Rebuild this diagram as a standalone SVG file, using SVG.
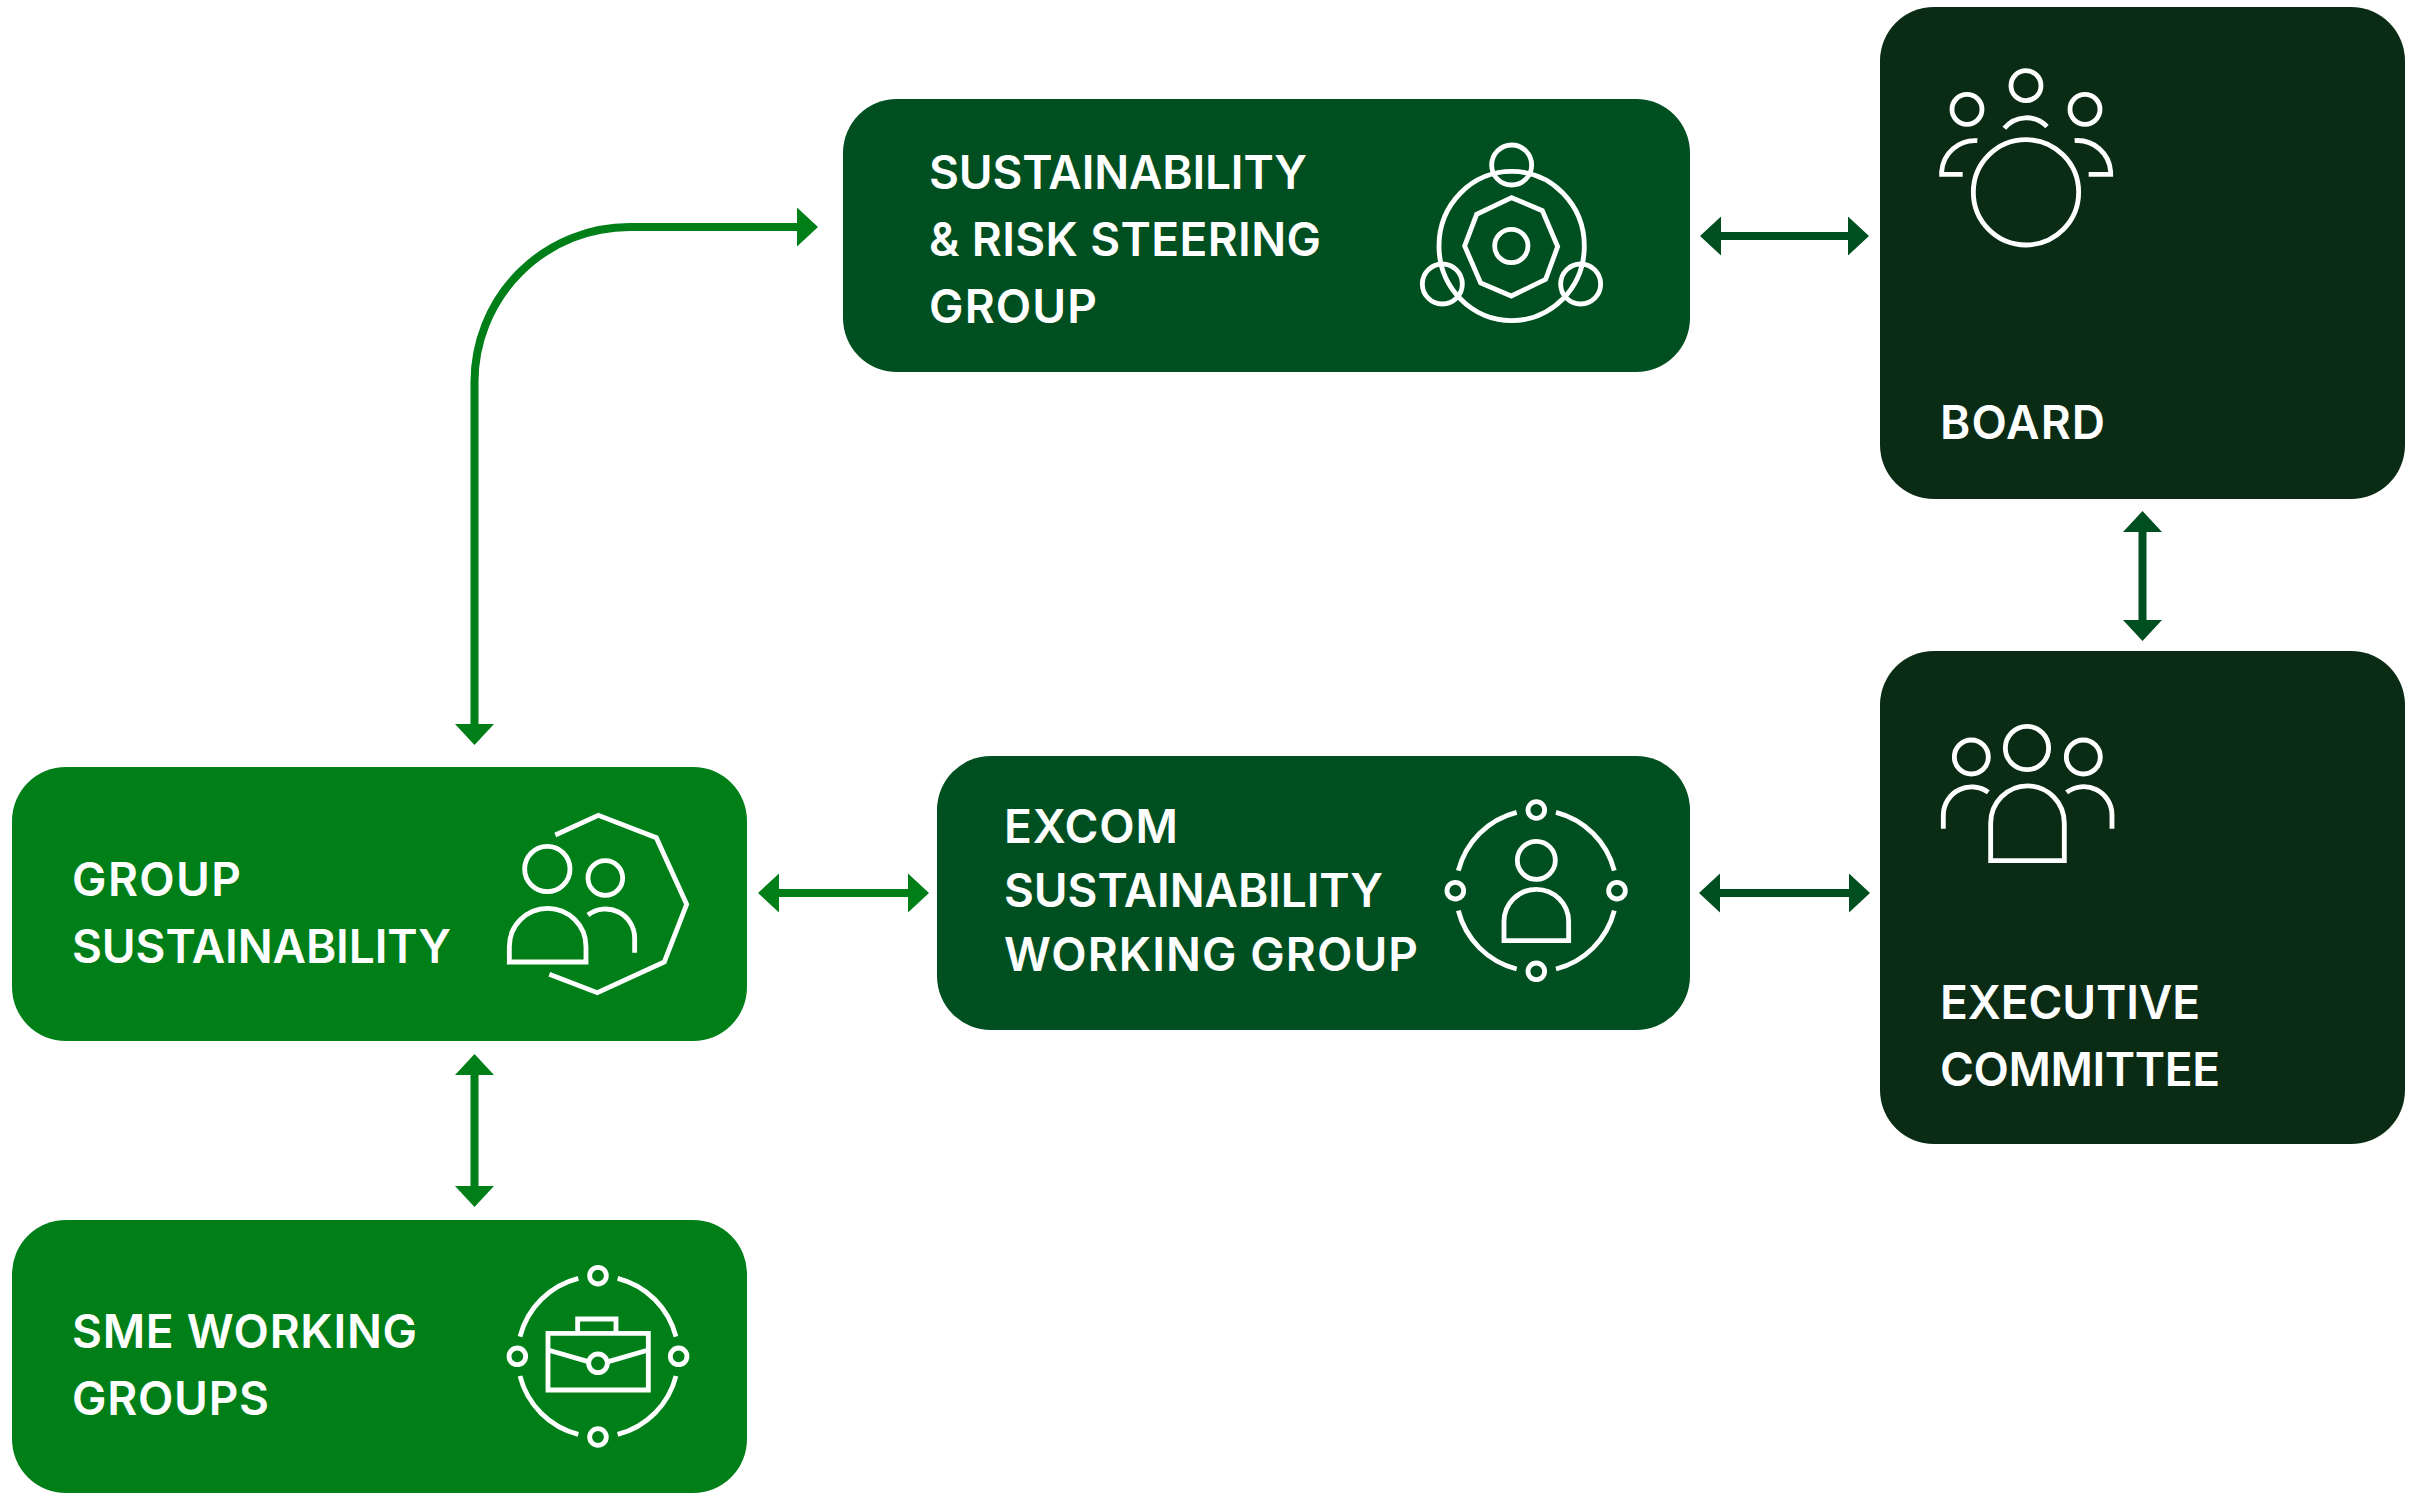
<svg xmlns="http://www.w3.org/2000/svg" width="2413" height="1499" viewBox="0 0 2413 1499">
<style>
.lbl{font-family:"Inter","Liberation Sans",sans-serif;font-weight:600;font-size:46px;fill:#fff}
.ic{fill:none;stroke:#fff;stroke-width:14.5}
.g1{fill:#007f19}.g2{fill:#004f20}.g3{fill:#0a2c15}
.c1{fill:none;stroke:#007f19;stroke-width:8}
.c2{fill:none;stroke:#004f20;stroke-width:8}
.h1{fill:#007f19}.h2{fill:#004f20}
</style>
<rect width="2413" height="1499" fill="#fff"/>
<g id="connectors">
<path class="c1" d="M474.5 735V382A155 155 0 0 1 629.5 227H805"/>
<path class="h1" d="M797 207.500L818 227L797 246.500ZM455 724L474.500 745L494 724Z"/>
<path class="c2" d="M1715 236H1855"/>
<path class="h2" d="M1721 216.500L1700 236L1721 255.500ZM1848 216.500L1869 236L1848 255.500Z"/>
<path class="c2" d="M2142.500 525V627"/>
<path class="h2" d="M2123 532L2142.500 511L2162 532ZM2123 620L2142.500 641L2162 620Z"/>
<path class="c2" d="M1715 893H1855"/>
<path class="h2" d="M1720 873.500L1699 893L1720 912.500ZM1849 873.500L1870 893L1849 912.500Z"/>
<path class="c1" d="M770 893H918"/>
<path class="h1" d="M779 873.500L758 893L779 912.500ZM908 873.500L929 893L908 912.500Z"/>
<path class="c1" d="M474.500 1068V1194"/>
<path class="h1" d="M455 1075L474.500 1054L494 1075ZM455 1186L474.500 1207L494 1186Z"/>
</g>
<g id="steering">
<rect class="g2" x="843" y="99" width="847" height="273" rx="54"/>
<text class="lbl" x="929" y="189" textLength="378">SUSTAINABILITY</text>
<text class="lbl" x="929" y="256" textLength="392">&amp; RISK STEERING</text>
<text class="lbl" x="929" y="323" textLength="168">GROUP</text>
<g class="ic" transform="translate(1380 100) scale(.3333)">
<ellipse cx="395" cy="438" rx="218" ry="224"/><circle cx="395" cy="195" r="60"/><circle cx="187" cy="552" r="60"/><circle cx="602" cy="552" r="60"/><circle cx="394" cy="438" r="50"/>
<path d="M395 293L487 332L533 440L497 538L394 588L302 549L254 438L290 343Z"/>
</g>
</g>
<g id="board">
<rect class="g3" x="1880" y="7" width="525" height="492" rx="54"/>
<text class="lbl" x="1940" y="439" textLength="165">BOARD</text>
<g class="ic" transform="translate(1900 40) scale(.3333)">
<circle cx="378" cy="137" r="45"/><circle cx="201" cy="208" r="45"/><circle cx="555" cy="208" r="45"/><circle cx="378" cy="457" r="158"/>
<path d="M313 265A85 85 0 0 1 441 260M232 302A100 100 0 0 0 125 395V403H188M524 302A100 100 0 0 1 632 395V403H566"/>
</g>
</g>
<g id="executive">
<rect class="g3" x="1880" y="651" width="525" height="493" rx="54"/>
<text class="lbl" x="1940" y="1019" textLength="260">EXECUTIVE</text>
<text class="lbl" x="1940" y="1086" textLength="280">COMMITTEE</text>
<g class="ic" transform="translate(1900 700) scale(.3333)">
<circle cx="381" cy="144" r="65"/><circle cx="214" cy="171" r="51"/><circle cx="550" cy="171" r="51"/>
<path d="M272 482V370A110 112 0 0 1 493 370V482ZM130 386V343A85 85 0 0 1 265 277M636 386V343A85 85 0 0 0 500 277"/>
</g>
</g>
<g id="excom">
<rect class="g2" x="937" y="756" width="753" height="274" rx="54"/>
<text class="lbl" x="1004" y="843" textLength="174">EXCOM</text>
<text class="lbl" x="1004" y="907" textLength="379">SUSTAINABILITY</text>
<text class="lbl" x="1004" y="971" textLength="414">WORKING GROUP</text>
<g class="ic" transform="translate(1420 780) scale(.3333)">
<circle cx="349" cy="90" r="25"/><circle cx="106" cy="332" r="25"/><circle cx="591" cy="332" r="25"/><circle cx="349" cy="574" r="25"/><circle cx="349" cy="241" r="57"/>
<path d="M252 482V425A97 97 0 0 1 446 425V482Z"/>
<path d="M290 97A242 242 0 0 0 115 272M408 97A242 242 0 0 1 583 272M115 392A242 242 0 0 0 290 567M408 567A242 242 0 0 0 583 392"/>
</g>
</g>
<g id="group-sustainability">
<rect class="g1" x="12" y="767" width="735" height="274" rx="54"/>
<text class="lbl" x="72" y="896" textLength="169">GROUP</text>
<text class="lbl" x="72" y="963" textLength="379">SUSTAINABILITY</text>
<g class="ic" transform="translate(490 790) scale(.3333)">
<path d="M196 135L325 76L499 143L590 343L523 516L322 608L178 553"/>
<circle cx="172" cy="237" r="68"/><circle cx="346" cy="264" r="52"/>
<path d="M58 516V470A115 115 0 0 1 288 470V516ZM434 488V444A87 87 0 0 0 294 375"/>
</g>
</g>
<g id="sme-working-groups">
<rect class="g1" x="12" y="1220" width="735" height="273" rx="54"/>
<text class="lbl" x="72" y="1348" textLength="345">SME WORKING</text>
<text class="lbl" x="72" y="1415" textLength="197">GROUPS</text>
<g class="ic" transform="translate(490 1250) scale(.3333)">
<circle cx="324" cy="77" r="25"/><circle cx="82" cy="319" r="25"/><circle cx="566" cy="319" r="25"/><circle cx="324" cy="561" r="25"/><circle cx="324" cy="340" r="28"/>
<path d="M265 85A242 242 0 0 0 90 260M383 85A242 242 0 0 1 558 260M90 378A242 242 0 0 0 265 553M383 553A242 242 0 0 0 558 378"/>
<path d="M174 250H475V420H174ZM263 245V207H378V245M174 300L295 335M475 300L355 335"/>
</g>
</g>
</svg>
